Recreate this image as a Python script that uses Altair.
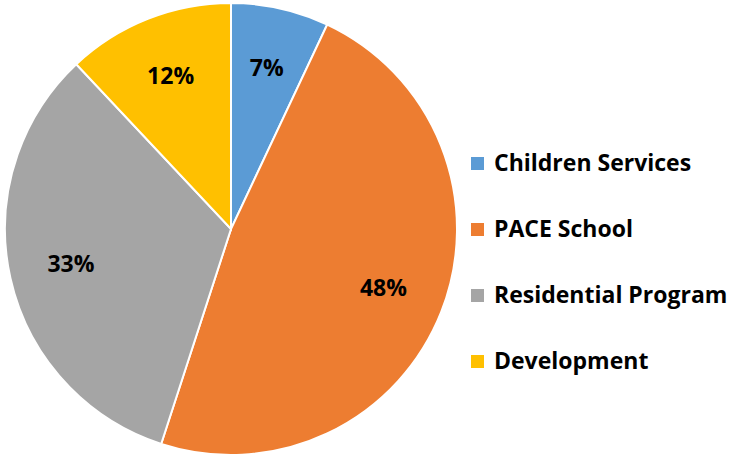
import altair as alt
import pandas as pd

categories = ["Children Services", "PACE School", "Residential Program", "Development"]
values = [7, 48, 33, 12]
colors = ["#5B9BD5", "#ED7D31", "#A5A5A5", "#FFC000"]

df = pd.DataFrame({
    "category": categories,
    "value": values,
    "idx": list(range(len(categories))),
    "label": [f"{v}%" for v in values],
})

base = alt.Chart(df).encode(
    theta=alt.Theta("value:Q", stack=True),
    order=alt.Order("idx:Q"),
    x=alt.value(231),
    y=alt.value(229),
)

pie = base.mark_arc(radius=226, stroke="white", strokeWidth=2).encode(
    color=alt.Color(
        "category:N",
        scale=alt.Scale(domain=categories, range=colors),
        sort=categories,
        legend=alt.Legend(
            title=None,
            orient="none",
            legendX=466,
            legendY=152,
            symbolType="square",
            symbolSize=169,
            symbolStrokeWidth=0,
            labelFont="Open Sans",
            labelFontWeight="bold",
            labelFontSize=23,
            labelColor="black",
            labelOffset=5,
            rowPadding=42,
            padding=0,
            labelLimit=400,
        ),
    )
)

text = base.mark_text(
    radius=164, font="Open Sans", fontWeight="bold", fontSize=23, color="black"
).encode(text="label:N")

chart = (pie + text).properties(
    width=735, height=455, autosize="none", padding=0
).configure_view(stroke=None)

chart.save("out.html", embed_options={"renderer": "svg", "actions": False})
